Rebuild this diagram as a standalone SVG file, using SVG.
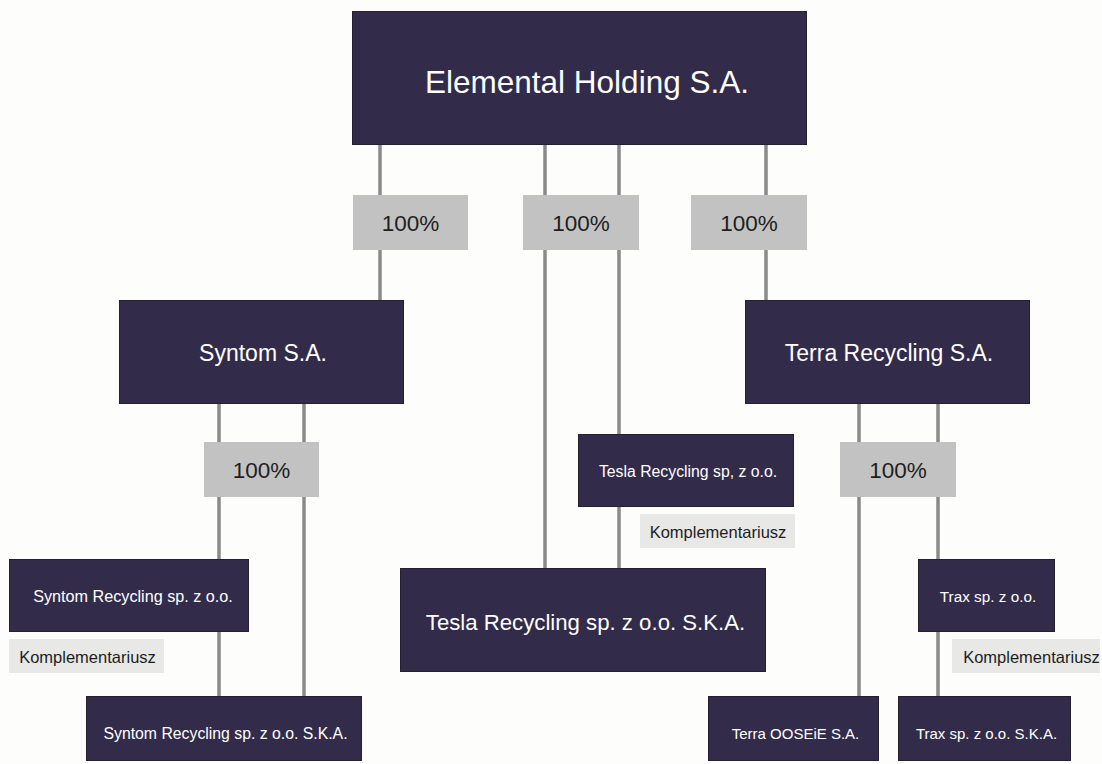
<svg xmlns="http://www.w3.org/2000/svg" width="1102" height="764" viewBox="0 0 1102 764">
<style>
.box{fill:#332b4a;stroke:#25202f;stroke-width:1}
.pct{fill:#c2c2c2}
.kom{fill:#e8e8e6}
.ln{stroke:#8a8a8a;stroke-width:3.5;fill:none}
text{font-family:"Liberation Sans",Arial,sans-serif;text-anchor:middle}
.wt{fill:#ffffff}
.dk{fill:#1e1e1e}
</style>
<rect width="1102" height="764" fill="#fdfdfb"/>
<g id="connectors">
<path class="ln" d="M380 145V300M545 145V568M619 145V434M619 507V568M766 145V300M219 404V559M219 632V696M304 404V696M859 404V696M938 404V559M938 632V696"/>
</g>
<g id="pct1"><rect class="pct" x="353" y="195" width="115" height="55"/><text class="dk" x="410.5" y="231" font-size="22.5">100%</text></g>
<g id="pct2"><rect class="pct" x="523" y="195" width="116" height="55"/><text class="dk" x="581" y="231" font-size="22.5">100%</text></g>
<g id="pct3"><rect class="pct" x="691" y="195" width="116" height="55"/><text class="dk" x="749" y="231" font-size="22.5">100%</text></g>
<g id="pct4"><rect class="pct" x="204" y="442" width="115" height="55"/><text class="dk" x="261.5" y="478" font-size="22.5">100%</text></g>
<g id="pct5"><rect class="pct" x="840" y="442" width="116" height="55"/><text class="dk" x="898" y="478" font-size="22.5">100%</text></g>
<g id="elemental"><rect class="box" x="352.5" y="11.5" width="454" height="133"/><text class="wt" x="587" y="93" font-size="31.5">Elemental Holding S.A.</text></g>
<g id="syntom"><rect class="box" x="119.5" y="300.5" width="284" height="103"/><text class="wt" x="263" y="361" font-size="23">Syntom S.A.</text></g>
<g id="terra"><rect class="box" x="745.5" y="300.5" width="284" height="103"/><text class="wt" x="889" y="361" font-size="23">Terra Recycling S.A.</text></g>
<g id="syntom-rec"><rect class="box" x="9.5" y="559.5" width="239" height="72"/><text class="wt" x="133" y="602" font-size="16.2">Syntom Recycling sp. z o.o.</text></g>
<g id="kom1"><rect class="kom" x="9" y="639" width="155" height="34"/><text class="dk" x="87.5" y="663" font-size="16.5">Komplementariusz</text></g>
<g id="syntom-ska"><rect class="box" x="86.5" y="696.5" width="275" height="64"/><text class="wt" x="225.5" y="739" font-size="15.8">Syntom Recycling sp. z o.o. S.K.A.</text></g>
<g id="tesla-rec"><rect class="box" x="578.5" y="434.5" width="215" height="72"/><text class="wt" x="688" y="477" font-size="15.8">Tesla Recycling sp, z o.o.</text></g>
<g id="kom2"><rect class="kom" x="640" y="514" width="155" height="34"/><text class="dk" x="718" y="538" font-size="16.5">Komplementariusz</text></g>
<g id="tesla-ska"><rect class="box" x="400.5" y="568.5" width="365" height="103"/><text class="wt" x="585.5" y="630" font-size="22.2">Tesla Recycling sp. z o.o. S.K.A.</text></g>
<g id="trax"><rect class="box" x="918.5" y="559.5" width="136" height="72"/><text class="wt" x="988" y="602" font-size="15.3">Trax sp. z o.o.</text></g>
<g id="kom3"><rect class="kom" x="952" y="639" width="148" height="34"/><text class="dk" x="1031.5" y="663" font-size="16.5">Komplementariusz</text></g>
<g id="terra-oos"><rect class="box" x="708.5" y="696.5" width="170" height="64"/><text class="wt" x="795.5" y="739" font-size="15">Terra OOSEiE S.A.</text></g>
<g id="trax-ska"><rect class="box" x="898.5" y="696.5" width="172" height="64"/><text class="wt" x="986.5" y="739" font-size="15">Trax sp. z o.o. S.K.A.</text></g>
</svg>
